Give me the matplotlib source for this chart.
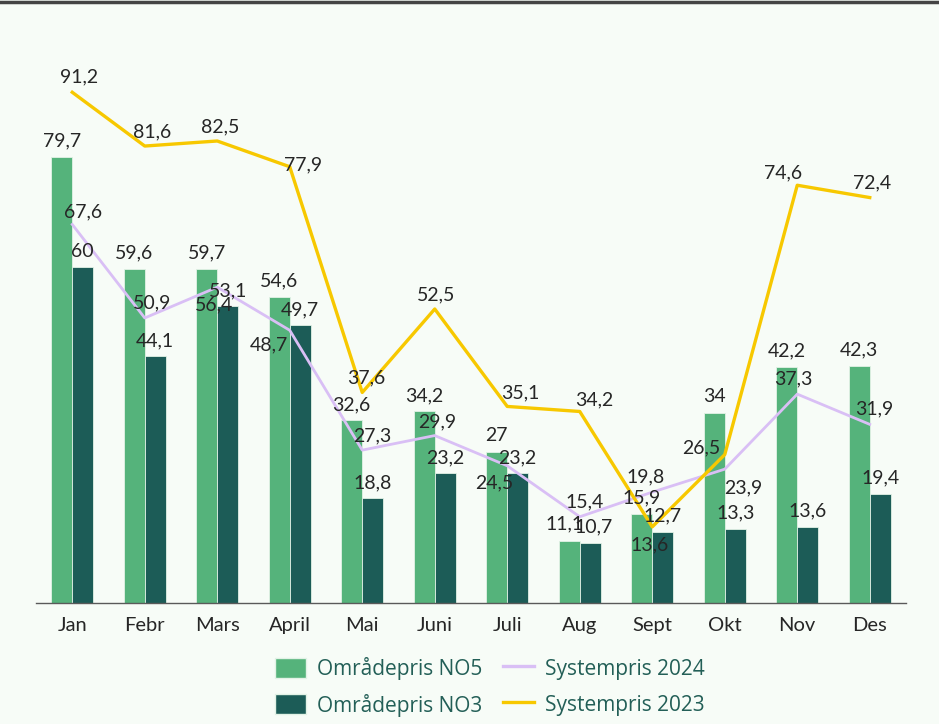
import numpy as np
import matplotlib.pyplot as plt
from matplotlib.patches import Patch
from matplotlib.lines import Line2D

months = ['Jan', 'Febr', 'Mars', 'April', 'Mai', 'Juni', 'Juli', 'Aug', 'Sept', 'Okt', 'Nov', 'Des']
no5 = [79.7, 59.6, 59.7, 54.6, 32.6, 34.2, 27, 11.1, 15.9, 34, 42.2, 42.3]
no3 = [60, 44.1, 53.1, 49.7, 18.8, 23.2, 23.2, 10.7, 12.7, 13.3, 13.6, 19.4]
sys2024 = [67.6, 50.9, 56.4, 48.7, 27.3, 29.9, 24.5, 15.4, 19.8, 23.9, 37.3, 31.9]
sys2023 = [91.2, 81.6, 82.5, 77.9, 37.6, 52.5, 35.1, 34.2, 13.6, 26.5, 74.6, 72.4]

# label offsets in pixels (dx, dy)
off_no5 = [(0, 16)] * 7 + [(-5, 17)] + [(0, 16)] * 4
off_no3 = [(0, 15)] * 7 + [(3, 16)] + [(0, 16)] * 4
off2024 = [(11, 13), (7, 15), (-3, -18), (-21, -15), (10, 14), (2, 14),
           (-13, -17), (5, 15), (-7, 15), (19, -19), (-4, 15), (5, 15)]
off2023 = [(7, 15), (7, 14), (3, 14), (13, 2), (4, 15), (1, 14),
           (13, 14), (14, 12), (-3, -18), (-23, 7), (-14, 12), (2, 15)]

c_no5 = '#55b37b'
c_no3 = '#1c5c57'
c_2024 = '#d9bff5'
c_2023 = '#f7c800'
bg = '#f7fcf7'
txt = '#262626'

fig = plt.figure(figsize=(9.39, 7.24), dpi=100, facecolor=bg)
ax = fig.add_axes([36 / 939, 1 - 603 / 724, 870 / 939, 560 / 724])
ax.set_facecolor(bg)

x = np.arange(len(months))
w = 0.29
ax.bar(x - w / 2, no5, w, color=c_no5, edgecolor='#e2f2e6', linewidth=0.6, zorder=2)
ax.bar(x + w / 2, no3, w, color=c_no3, edgecolor='#e2f2e6', linewidth=0.6, zorder=2)
ax.plot(x, sys2024, color=c_2024, lw=2.0, zorder=3)
ax.plot(x, sys2023, color=c_2023, lw=2.4, zorder=3)

fs = 14
def lab(v):
    return ('%g' % v).replace('.', ',')

def put(vals, xs, offs):
    for xi, v, o in zip(xs, vals, offs):
        ax.annotate(lab(v), (xi, v), xytext=o, textcoords='offset pixels',
                    ha='center', va='center', fontsize=fs, color=txt, family='Lato', zorder=5)

put(no5, x - w / 2, off_no5)
put(no3, x + w / 2, off_no3)
put(sys2024, x, off2024)
put(sys2023, x, off2023)

ax.set_xlim(-0.5, len(months) - 0.5)
ax.set_ylim(0, 100)
ax.set_yticks([])
ax.set_xticks(x)
ax.set_xticklabels(months, fontsize=14.5, color=txt, family='Lato')
ax.tick_params(axis='x', length=0, pad=10)
for s in ['top', 'right', 'left']:
    ax.spines[s].set_visible(False)
ax.spines['bottom'].set_color('#5a5a5a')
ax.spines['bottom'].set_linewidth(1.0)

handles = [Patch(facecolor=c_no5, edgecolor='#e2f2e6'),
           Patch(facecolor=c_no3, edgecolor='#e2f2e6'),
           Line2D([], [], color=c_2024, lw=2.4),
           Line2D([], [], color=c_2023, lw=2.4)]
labels = ['Områdepris NO5', 'Områdepris NO3', 'Systempris 2024', 'Systempris 2023']
leg = fig.legend(handles, labels, ncol=2, loc='upper left', bbox_to_anchor=(275 / 939, 1 - 657 / 724),
                 frameon=False, borderpad=0, borderaxespad=0, handlelength=1.5, handleheight=1.1,
                 handletextpad=0.5, columnspacing=1.0, labelspacing=0.65,
                 prop={'family': 'Open Sans', 'size': 15})
for t in leg.get_texts():
    t.set_color('#235f57')

# dark frame line along the top edge
fig.add_artist(Line2D([0, 1], [1 - 1.5 / 724, 1 - 1.5 / 724], color='#444444', lw=2.5))

fig.savefig('out.png', dpi=100, facecolor=bg)
